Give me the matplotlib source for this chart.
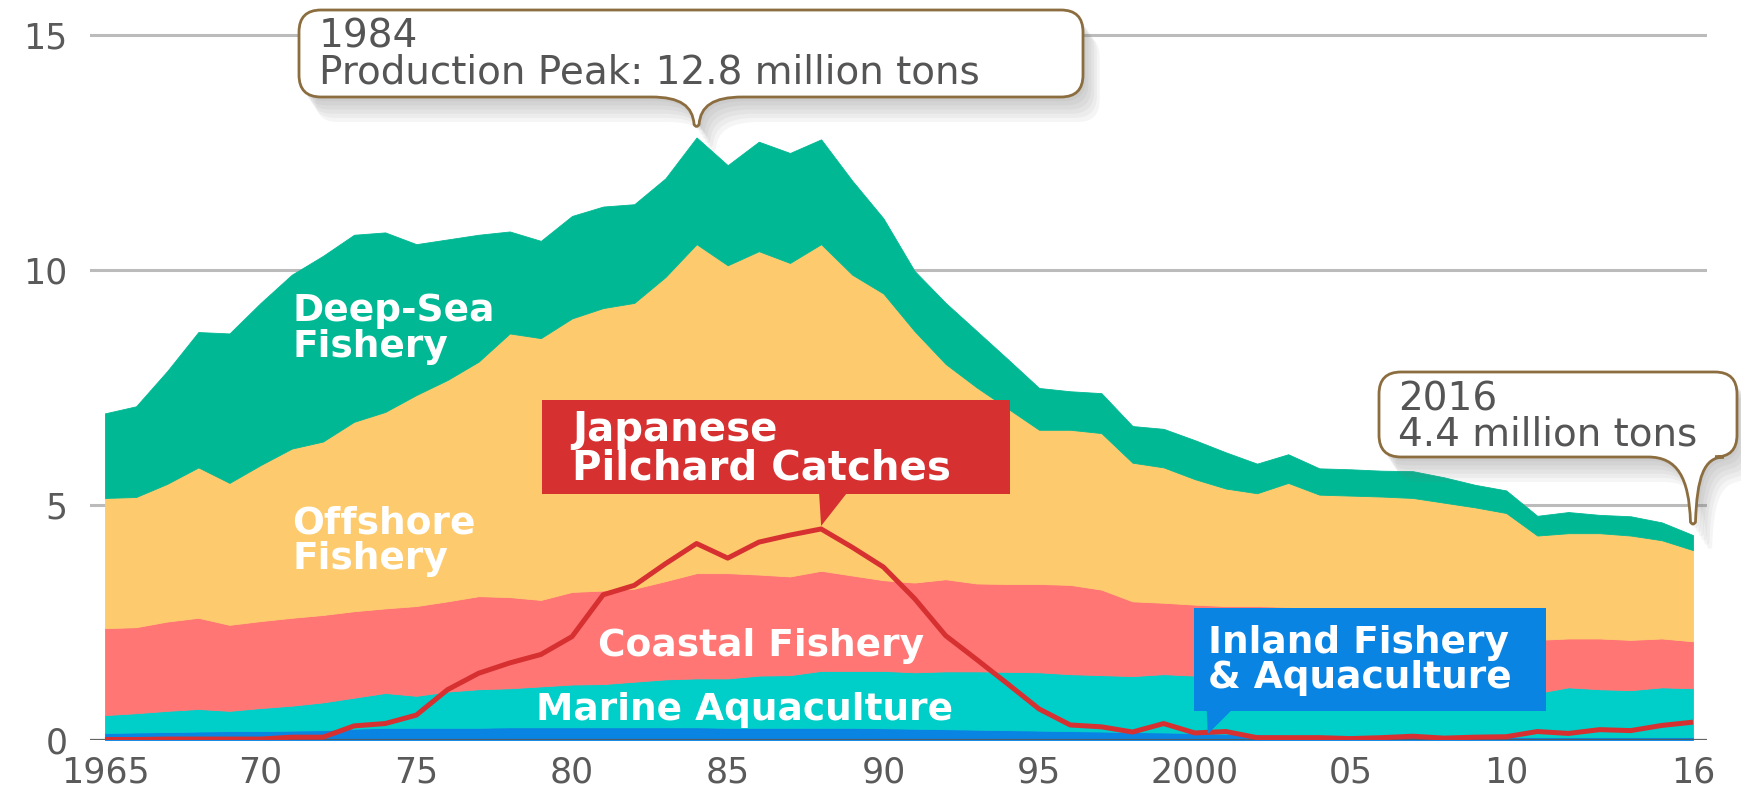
import numpy as np
import matplotlib
matplotlib.use("Agg")
import matplotlib.pyplot as plt
from matplotlib.path import Path
from matplotlib.patches import PathPatch
import matplotlib.patheffects as pe

# fishery production in Japan, million tons
years = np.arange(1965, 2017)

inland = [0.15, 0.16, 0.17, 0.18, 0.19, 0.19, 0.20, 0.21, 0.24, 0.26,
          0.26, 0.26, 0.26, 0.27, 0.27, 0.27, 0.27, 0.27, 0.27, 0.27,
          0.26, 0.26, 0.26, 0.26, 0.26, 0.25, 0.24, 0.23, 0.22, 0.21,
          0.20, 0.19, 0.18, 0.17, 0.16, 0.15, 0.13, 0.12, 0.11, 0.10,
          0.09, 0.09, 0.08, 0.08, 0.07, 0.07, 0.06, 0.06, 0.06, 0.06,
          0.06, 0.06]
marine_aq = [0.38, 0.41, 0.45, 0.48, 0.43, 0.49, 0.53, 0.59, 0.66, 0.74,
             0.68, 0.77, 0.82, 0.83, 0.87, 0.91, 0.92, 0.97, 1.02, 1.04,
             1.05, 1.11, 1.12, 1.21, 1.21, 1.22, 1.20, 1.23, 1.24, 1.24,
             1.24, 1.21, 1.20, 1.19, 1.24, 1.22, 1.22, 1.23, 1.21, 1.21,
             1.21, 1.19, 1.24, 1.20, 1.23, 1.15, 0.94, 1.06, 1.02, 1.00,
             1.06, 1.04]
coastal = [1.85, 1.83, 1.90, 1.94, 1.83, 1.85, 1.87, 1.86, 1.84, 1.80,
           1.91, 1.92, 1.98, 1.94, 1.84, 1.97, 1.99, 1.98, 2.09, 2.24,
           2.24, 2.15, 2.10, 2.13, 2.03, 1.93, 1.91, 1.96, 1.87, 1.87,
           1.88, 1.90, 1.82, 1.59, 1.52, 1.51, 1.50, 1.50, 1.51, 1.44,
           1.40, 1.38, 1.30, 1.28, 1.20, 1.23, 1.13, 1.04, 1.08, 1.07,
           1.04, 1.00]
offshore = [2.77, 2.77, 2.93, 3.20, 3.02, 3.32, 3.60, 3.69, 4.03, 4.18,
            4.49, 4.71, 4.99, 5.61, 5.57, 5.82, 6.01, 6.08, 6.47, 7.00,
            6.55, 6.88, 6.67, 6.95, 6.40, 6.10, 5.35, 4.58, 4.17, 3.73,
            3.28, 3.30, 3.33, 2.95, 2.88, 2.67, 2.50, 2.40, 2.64, 2.47,
            2.50, 2.52, 2.53, 2.49, 2.45, 2.38, 2.22, 2.24, 2.24, 2.22,
            2.09, 1.94]
deep_sea = [1.80, 1.93, 2.40, 2.88, 3.18, 3.45, 3.70, 3.95, 3.98, 3.82,
            3.21, 2.99, 2.70, 2.17, 2.07, 2.18, 2.16, 2.10, 2.10, 2.27,
            2.13, 2.33, 2.34, 2.23, 2.00, 1.60, 1.28, 1.30, 1.20, 1.05,
            0.89, 0.82, 0.85, 0.78, 0.82, 0.83, 0.77, 0.63, 0.61, 0.56,
            0.56, 0.55, 0.57, 0.54, 0.48, 0.48, 0.42, 0.45, 0.39, 0.41,
            0.38, 0.32]
pilchard = [0.01, 0.01, 0.02, 0.02, 0.02, 0.02, 0.06, 0.06, 0.30, 0.35,
            0.53, 1.07, 1.42, 1.64, 1.82, 2.20, 3.09, 3.29, 3.75, 4.18,
            3.87, 4.21, 4.36, 4.49, 4.10, 3.68, 3.01, 2.22, 1.71, 1.19,
            0.66, 0.32, 0.28, 0.17, 0.35, 0.15, 0.18, 0.05, 0.05, 0.05,
            0.03, 0.05, 0.08, 0.04, 0.06, 0.07, 0.18, 0.14, 0.22, 0.20,
            0.31, 0.38]

layer_colors = ['#0984e3', '#00cec9', '#ff7675', '#fdcb6e', '#00b894']
pilchard_color = '#d63031'

x_ticks = [1965, 1970, 1975, 1980, 1985, 1990, 1995, 2000, 2005, 2010, 2016]
x_tick_labels = ['1965', '70', '75', '80', '85', '90', '95', '2000', '05', '10', '16']
y_ticks = [0, 5, 10, 15]

W, H = 1741, 790
fig = plt.figure(figsize=(W / 100, H / 100), dpi=100)
ax = fig.add_axes([90 / W, 50 / H, (1707 - 90) / W, 740 / H])
ax.set_xlim(1964.52, 2016.45)
ax.set_ylim(0, 740 / 47)

stack = ax.stackplot(years, inland, marine_aq, coastal, offshore, deep_sea,
                     colors=layer_colors, zorder=2)
for poly, c in zip(stack, layer_colors):
    poly.set_edgecolor(c)
    poly.set_linewidth(0.6)

ax.plot(years, pilchard, color=pilchard_color, lw=3.6, zorder=4,
        solid_joinstyle='round', solid_capstyle='butt')
ax.axhline(0, color='#555555', lw=1.6, zorder=3, alpha=0.85)

for s in ax.spines.values():
    s.set_visible(False)
ax.set_yticks(y_ticks)
ax.set_yticklabels([str(v) for v in y_ticks])
ax.set_xticks(x_ticks)
ax.set_xticklabels(x_tick_labels)
ax.yaxis.grid(True, color='#bbbbbb', lw=2.2)
ax.set_axisbelow(True)
ax.tick_params(axis='both', length=0, labelsize=25, labelcolor='#5a5a5a')
ax.tick_params(axis='y', pad=16)
ax.tick_params(axis='x', pad=11)


def fx(x, y):
    # pixel from top-left -> figure fraction
    return x / W, 1 - y / H


def data_px(x, y):
    px, py = ax.transData.transform((x, y))
    return px, H - py


soft_shadow = [pe.SimplePatchShadow(offset=(2 * i, -3 * i), shadow_rgbFace='#777777', alpha=0.07)
               for i in range(6, 0, -1)]


def bubble(x0, y0, x1, y1, r, base_l, base_r, tip):
    tx, ty = tip
    k = ty - y1
    pts = [(x0 + r, y0), (x1 - r, y0), (x1, y0), (x1, y0 + r),
           (x1, y1 - r), (x1, y1), (x1 - r, y1), (base_r, y1),
           (tx + 0.35 * (base_r - tx), y1), (tx + 4, y1 + 0.3 * k), (tx + 2.5, ty - 3),
           (tx, ty + 1), (tx - 2.5, ty - 3),
           (tx - 4, y1 + 0.3 * k), (tx - 0.35 * (tx - base_l), y1), (base_l, y1),
           (x0 + r, y1), (x0, y1), (x0, y1 - r), (x0, y0 + r), (x0, y0), (x0 + r, y0),
           (x0 + r, y0)]
    codes = [Path.MOVETO, Path.LINETO, Path.CURVE3, Path.CURVE3,
             Path.LINETO, Path.CURVE3, Path.CURVE3, Path.LINETO,
             Path.CURVE4, Path.CURVE4, Path.CURVE4,
             Path.CURVE3, Path.CURVE3,
             Path.CURVE4, Path.CURVE4, Path.CURVE4,
             Path.LINETO, Path.CURVE3, Path.CURVE3, Path.LINETO, Path.CURVE3, Path.CURVE3,
             Path.CLOSEPOLY]
    path = Path([fx(*p) for p in pts], codes)
    patch = PathPatch(path, facecolor='white', edgecolor='#8c6d3f', lw=2.0,
                      transform=fig.transFigure, zorder=5)
    patch.set_path_effects(soft_shadow + [pe.Normal()])
    fig.add_artist(patch)


def tag(x0, y0, x1, y1, base_l, base_r, tip, color):
    tx, ty = tip
    pts = [(x0, y0), (x1, y0), (x1, y1), (base_r, y1), (tx, ty), (base_l, y1), (x0, y1), (x0, y0)]
    codes = [Path.MOVETO] + [Path.LINETO] * 6 + [Path.CLOSEPOLY]
    path = Path([fx(*p) for p in pts], codes)
    fig.add_artist(PathPatch(path, facecolor=color, edgecolor='none',
                             transform=fig.transFigure, zorder=5))


layers = (inland, marine_aq, coastal, offshore, deep_sea)

# callouts
i84 = list(years).index(1984)
tx, ty = data_px(1984, sum(v[i84] for v in layers))
bubble(299, 10, 1083, 97, 22, 651, 743, (tx, ty - 10))
fig.text(*fx(319, 83), '1984\nProduction Peak: 12.8 million tons', fontsize=28,
         color='#555555', ha='left', va='baseline', linespacing=0.92, zorder=6)

i16 = list(years).index(2016)
tx, ty = data_px(2016, sum(v[i16] for v in layers))
bubble(1379, 372, 1737, 457, 22, 1648, 1724, (tx, ty - 10))
fig.text(*fx(1398, 446), '2016\n4.4 million tons', fontsize=28,
         color='#555555', ha='left', va='baseline', linespacing=0.92, zorder=6)

i88 = list(years).index(1988)
tx, ty = data_px(1988, pilchard[i88])
tag(542, 400, 1010, 494, tx - 2, tx + 25, (tx, ty - 3), pilchard_color)
fig.text(*fx(572, 479), 'Japanese\nPilchard Catches', fontsize=29, fontweight='bold',
         color='white', ha='left', va='baseline', linespacing=0.95, zorder=6)

i00 = list(years).index(2000)
tx, ty = data_px(2000, inland[i00])
tag(1194, 608, 1546, 711, tx + 12, tx + 36, (tx + 13, ty + 1), layer_colors[0])
fig.text(*fx(1208, 688), 'Inland Fishery\n& Aquaculture', fontsize=27, fontweight='bold',
         color='white', ha='left', va='baseline', linespacing=0.98, zorder=6)

# layer labels
lab = dict(fontsize=27, fontweight='bold', color='white', ha='left', va='baseline',
           linespacing=1.0, zorder=6)
fig.text(*fx(292, 357), 'Deep-Sea\nFishery', **lab)
fig.text(*fx(292, 569), 'Offshore\nFishery', **lab)
fig.text(*fx(598, 656), 'Coastal Fishery', **lab)
fig.text(*fx(536, 720), 'Marine Aquaculture', **lab)

fig.savefig('out.png', dpi=100, facecolor='white')
